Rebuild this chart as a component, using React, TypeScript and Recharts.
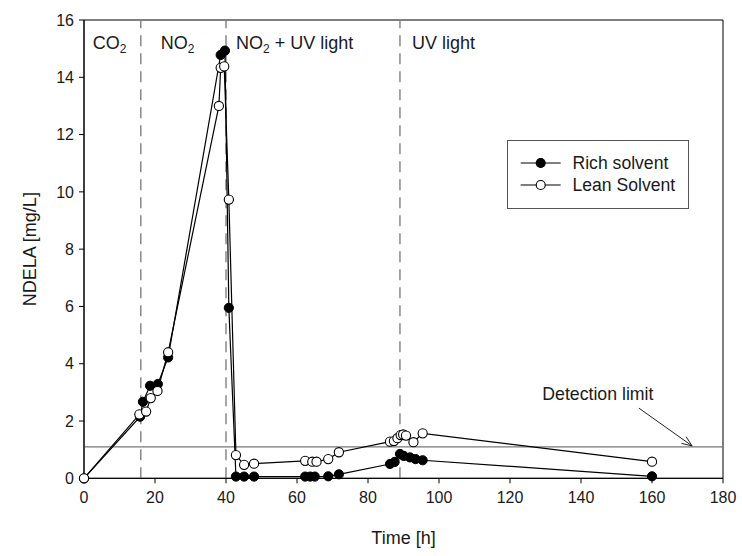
import React from "react";
import { LineChart, Line, XAxis, YAxis, ReferenceLine, ReferenceArea, Legend } from "recharts";

const richTimes = [0, 15.8, 16.6, 18.6, 20.8, 23.7, 38.5, 39.7, 40.8, 42.8, 45.1, 47.9, 62.3, 63.7, 65.0, 68.8, 71.8, 86.2, 87.5, 89.0, 90.1, 91.8, 93.4, 95.4, 160];
const richValues = [0, 2.15, 2.67, 3.23, 3.29, 4.22, 14.78, 14.93, 5.95, 0.06, 0.06, 0.06, 0.06, 0.06, 0.06, 0.07, 0.14, 0.5, 0.57, 0.85, 0.78, 0.73, 0.67, 0.63, 0.07];

const leanTimes = [0, 15.6, 17.5, 18.8, 20.7, 23.7, 38.0, 38.5, 39.5, 40.8, 42.8, 45.1, 47.9, 62.3, 64.3, 65.5, 68.8, 71.8, 86.2, 87.3, 88.3, 89.2, 89.9, 90.7, 92.8, 95.4, 160];
const leanValues = [0, 2.23, 2.33, 2.8, 3.05, 4.4, 13.0, 14.33, 14.38, 9.73, 0.81, 0.47, 0.51, 0.61, 0.58, 0.58, 0.67, 0.91, 1.28, 1.3, 1.4, 1.51, 1.53, 1.49, 1.26, 1.57, 0.58];

const xTicks = [0, 20, 40, 60, 80, 100, 120, 140, 160, 180];
const yTicks = [0, 2, 4, 6, 8, 10, 12, 14, 16];
const phaseBoundaries = [16, 40, 89];
const detectionLimit = 1.1;
const arrowFrom = { x: 156.3, y: 2.45 };
const arrowTo = { x: 171.3, y: 1.13 };
const seriesNames = ["Rich solvent", "Lean Solvent"];

const richData = richTimes.map((t, i) => ({ t, v: richValues[i] }));
const leanData = leanTimes.map((t, i) => ({ t, v: leanValues[i] }));

const FONT = "'Liberation Sans', Arial, sans-serif";
const TXT = "#1a1a1a";

const phaseLabel = (idx: number) => (props: any) => {
  const vb = props.viewBox || {};
  const x = vb.x;
  const y = vb.y + 29;
  const common = { fontFamily: FONT, fontSize: 18, fill: TXT } as any;
  if (idx === 0) {
    return (
      <g>
        <text x={x - 48} y={y} {...common}>
          CO<tspan fontSize={12} dy={4}>2</tspan>
        </text>
        <text x={x + 20} y={y} {...common}>
          NO<tspan fontSize={12} dy={4}>2</tspan>
        </text>
      </g>
    );
  }
  if (idx === 1) {
    return (
      <text x={x + 10} y={y} {...common}>
        NO<tspan fontSize={12} dy={4}>2</tspan>
        <tspan dy={-4}> + UV light</tspan>
      </text>
    );
  }
  return (
    <text x={x + 12} y={y} {...common}>
      UV light
    </text>
  );
};

const arrowShape = (props: any) => {
  const { x1, y1, x2, y2 } = props;
  const ang = Math.atan2(y2 - y1, x2 - x1);
  const L = 11;
  const w = 0.38;
  const ax = x2 - L * Math.cos(ang - w);
  const ay = y2 - L * Math.sin(ang - w);
  const bx = x2 - L * Math.cos(ang + w);
  const by = y2 - L * Math.sin(ang + w);
  return (
    <g>
      <line x1={x1} y1={y1} x2={x2} y2={y2} stroke="#222" strokeWidth={1} />
      <polyline points={`${ax},${ay} ${x2},${y2} ${bx},${by}`} fill="none" stroke="#222" strokeWidth={1} />
      <text x={x1 - 41} y={y1 - 8} textAnchor="middle" fontFamily={FONT} fontSize={17.7} fill={TXT}>
        Detection limit
      </text>
    </g>
  );
};

const renderLegend = () => (
  <div style={{ width: 182, height: 69, border: "1px solid #555", background: "#fff", boxSizing: "border-box" }}>
    <svg width={180} height={67} style={{ display: "block" }}>
      {[0, 1].map((i) => {
        const y = i === 0 ? 22 : 44;
        return (
          <g key={i}>
            <line x1={12.7} x2={52.7} y1={y} y2={y} stroke="#000" strokeWidth={1.2} />
            <circle cx={32.7} cy={y} r={4.5} fill={i === 0 ? "#000" : "#fff"} stroke="#000" strokeWidth={1.1} />
            <text x={64.5} y={y + 6.3} fontFamily={FONT} fontSize={17.6} fill={TXT}>
              {seriesNames[i]}
            </text>
          </g>
        );
      })}
    </svg>
  </div>
);

export default function App() {
  return (
    <div style={{ position: "absolute", left: 0, top: 0, width: 742, height: 556, background: "#fff" }}>
      <LineChart width={742} height={556} margin={{ top: 20, right: 19, bottom: 17.7, left: 24 }}>
        <XAxis
          dataKey="t"
          type="number"
          domain={[0, 180]}
          ticks={xTicks}
          height={60}
          stroke="#000"
          tickSize={5}
          tickMargin={8}
          tick={{ fontFamily: FONT, fontSize: 16, fill: TXT }}
          label={{
            content: (p: any) => {
              const vb = p.viewBox;
              return (
                <text x={vb.x + vb.width / 2} y={vb.y + 65.5} textAnchor="middle" fontFamily={FONT} fontSize={18} fill={TXT}>
                  Time [h]
                </text>
              );
            },
          }}
        />
        <YAxis
          type="number"
          domain={[0, 16]}
          ticks={yTicks}
          width={60}
          stroke="#000"
          tickSize={5}
          tickMargin={5}
          tick={{ fontFamily: FONT, fontSize: 16, fill: TXT }}
          label={{
            content: (p: any) => {
              const vb = p.viewBox;
              const cx = 30;
              const cy = vb.y + vb.height / 2;
              return (
                <text x={cx} y={cy} transform={`rotate(-90, ${cx}, ${cy})`} textAnchor="middle" dominantBaseline="central" fontFamily={FONT} fontSize={18} fill={TXT}>
                  NDELA [mg/L]
                </text>
              );
            },
          }}
        />
        <ReferenceArea x1={0} x2={180} y1={0} y2={16} fill="none" fillOpacity={0} stroke="#000" strokeWidth={1} />
        {phaseBoundaries.map((b, i) => (
          <ReferenceLine key={b} x={b} stroke="#808080" strokeWidth={1.4} strokeDasharray="11 7" label={{ content: phaseLabel(i) }} />
        ))}
        <ReferenceLine y={detectionLimit} stroke="#777" strokeWidth={1.2} />
        <ReferenceLine segment={[arrowFrom, arrowTo]} shape={arrowShape} stroke="#222" />
        <Legend
          layout="vertical"
          align="center"
          verticalAlign="middle"
          content={renderLegend}
          wrapperStyle={{ left: 507, top: 140, width: 182, height: 69 }}
        />
        <Line
          data={richData}
          dataKey="v"
          name={seriesNames[0]}
          stroke="#000"
          strokeWidth={1.2}
          dot={{ r: 4.6, fill: "#000", stroke: "#000", strokeWidth: 1 }}
          isAnimationActive={false}
        />
        <Line
          data={leanData}
          dataKey="v"
          name={seriesNames[1]}
          stroke="#000"
          strokeWidth={1.2}
          dot={{ r: 4.6, fill: "#fff", stroke: "#000", strokeWidth: 1.1 }}
          isAnimationActive={false}
        />
      </LineChart>
    </div>
  );
}
